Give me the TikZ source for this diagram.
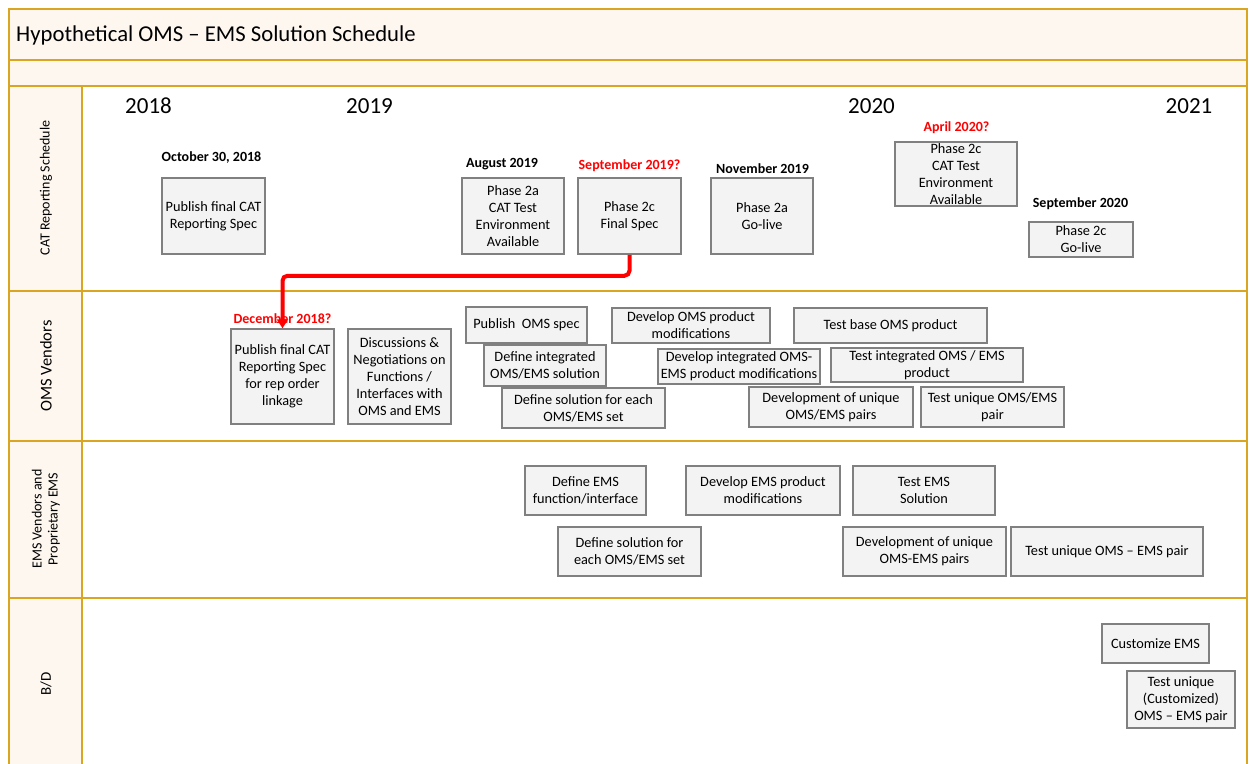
\documentclass[tikz,border=0pt]{standalone}
\usepackage{fontspec}
\setmainfont{Carlito}
\usetikzlibrary{arrows.meta}
\definecolor{gold}{RGB}{218,165,32}
\definecolor{cream}{RGB}{254,247,240}
\definecolor{boxfill}{RGB}{243,243,243}
\definecolor{boxline}{RGB}{128,128,128}
\tikzset{
  taskbox/.style={draw=boxline, fill=boxfill, line width=1.5pt, inner sep=0pt, align=center,
    font=\fontsize{14.3}{17}\selectfont},
  datelbl/.style={font=\fontsize{14}{16}\selectfont\bfseries, inner sep=0pt},
  reddate/.style={datelbl, text=red},
  yearlbl/.style={font=\fontsize{23}{26}\selectfont, inner sep=0pt},
  lanelbl/.style={rotate=90, align=center, inner sep=0pt, font=\fontsize{14}{16}\selectfont},
  frameline/.style={draw=gold, line width=2pt},
}
\newcommand\bx[6]{\node[taskbox, minimum width={(#4-#2)*1pt}, minimum height={(#5-#3)*1pt}] (#1) at ({(#2+#4)/2},{(#3+#5)/2}) {#6};}
\begin{document}
\begin{tikzpicture}[x=1pt,y=-1pt]
\useasboundingbox (0,0) rectangle (1250,763);
% backgrounds
\fill[white] (0,0) rectangle (1250,763);
\fill[cream] (9,9) rectangle (1247,86);
\fill[cream] (9,86) rectangle (82,770);
% frame lines
\draw[frameline] (9,770) -- (9,9) -- (1247,9) -- (1247,770);
\draw[frameline] (9,60) -- (1247,60);
\draw[frameline] (9,86) -- (1247,86);
\draw[frameline] (9,291) -- (1247,291);
\draw[frameline] (9,441) -- (1247,441);
\draw[frameline] (9,598) -- (1247,598);
\draw[frameline] (82,86) -- (82,770);
% title
\node[anchor=west, inner sep=0pt, font=\fontsize{22.7}{26}\selectfont] (title) at (16,35) {Hypothetical OMS – EMS Solution Schedule};
% lane labels
\node[lanelbl] (lcat) at (46,188) {CAT Reporting Schedule};
\node[lanelbl, font=\fontsize{16.5}{19}\selectfont] (loms) at (46,366) {OMS Vendors};
\node[lanelbl] (lems) at (46,519) {EMS Vendors and\\Proprietary EMS};
\node[lanelbl, font=\fontsize{15}{17}\selectfont] (lbd) at (46,684) {B/D};
% years
\node[yearlbl] (y18) at (148.5,106) {2018};
\node[yearlbl] (y19) at (369.5,106) {2019};
\node[yearlbl] (y20) at (871.5,106) {2020};
\node[yearlbl] (y21) at (1189,106) {2021};
% CAT row
\node[datelbl] (d1) at (211.5,158) {October 30, 2018};
\bx{c1}{162}{178}{265}{254}{Publish final CAT\\Reporting Spec}
\node[datelbl] (d2) at (502,164) {August 2019};
\bx{c2}{462}{178}{564}{254}{Phase 2a\\CAT Test\\Environment\\Available}
\node[reddate] (d3) at (629.5,166) {September 2019?};
\bx{c3}{578}{178}{681}{254}{Phase 2c\\Final Spec}
\node[datelbl] (d4) at (762.5,169) {November 2019};
\bx{c4}{711}{178}{813}{254}{Phase 2a\\Go-live}
\node[reddate] (d5) at (956.5,128) {April 2020?};
\bx{c5}{895}{142}{1017}{206}{\fontsize{14.3}{16.7}\selectfont Phase 2c\\CAT Test\\Environment\\Available}
\node[datelbl] (d6) at (1080.5,204) {September 2020};
\bx{c6}{1029}{222}{1133}{257}{Phase 2c\\Go-live}
% OMS row
\node[reddate] (d7) at (282.5,319) {December 2018?};
\bx{o1}{231}{329}{334}{424}{Publish final CAT\\Reporting Spec\\for rep order\\linkage}
\bx{o2}{348}{329}{451}{424}{Discussions \&\\Negotiations on\\Functions /\\Interfaces with\\OMS and EMS}
\bx{o3}{466}{307}{587}{343}{Publish\ \ OMS spec}
\bx{o4}{484}{345}{606}{386}{Define integrated\\OMS/EMS solution}
\bx{o5}{502}{388}{665}{428}{Define solution for each\\OMS/EMS set}
\bx{o6}{612}{308}{770}{343}{Develop OMS product\\modifications}
\bx{o7}{658}{349}{820}{384}{Develop integrated OMS-\\EMS product modifications}
\bx{o8}{794}{308}{987}{343}{Test base OMS product}
\bx{o9}{831}{348}{1023}{382}{Test integrated OMS / EMS\\product}
\bx{o10}{749}{387}{913}{427}{Development of unique\\OMS/EMS pairs}
\bx{o11}{921}{387}{1064}{427}{Test unique OMS/EMS\\pair}
% EMS row
\bx{e1}{525}{466}{646}{515}{Define EMS\\function/interface}
\bx{e2}{686}{466}{840}{515}{Develop EMS product\\modifications}
\bx{e3}{853}{466}{995}{515}{Test EMS\\Solution}
\bx{e4}{558}{527}{701}{576}{Define solution for\\each OMS/EMS set}
\bx{e5}{843}{527}{1006}{576}{Development of unique\\OMS-EMS pairs}
\bx{e6}{1011}{527}{1203}{576}{Test unique OMS – EMS pair}
% B/D row
\bx{b1}{1102}{624}{1209}{663}{Customize EMS}
\bx{b2}{1127}{671}{1235}{728}{Test unique\\(Customized)\\OMS – EMS pair}
% red arrow
\draw[red, line width=4pt, rounded corners=5pt, -{Triangle[length=9pt,width=11pt]}]
  (c3.south) -- ++(0,21) -| (o1.north);
\end{tikzpicture}
\end{document}
